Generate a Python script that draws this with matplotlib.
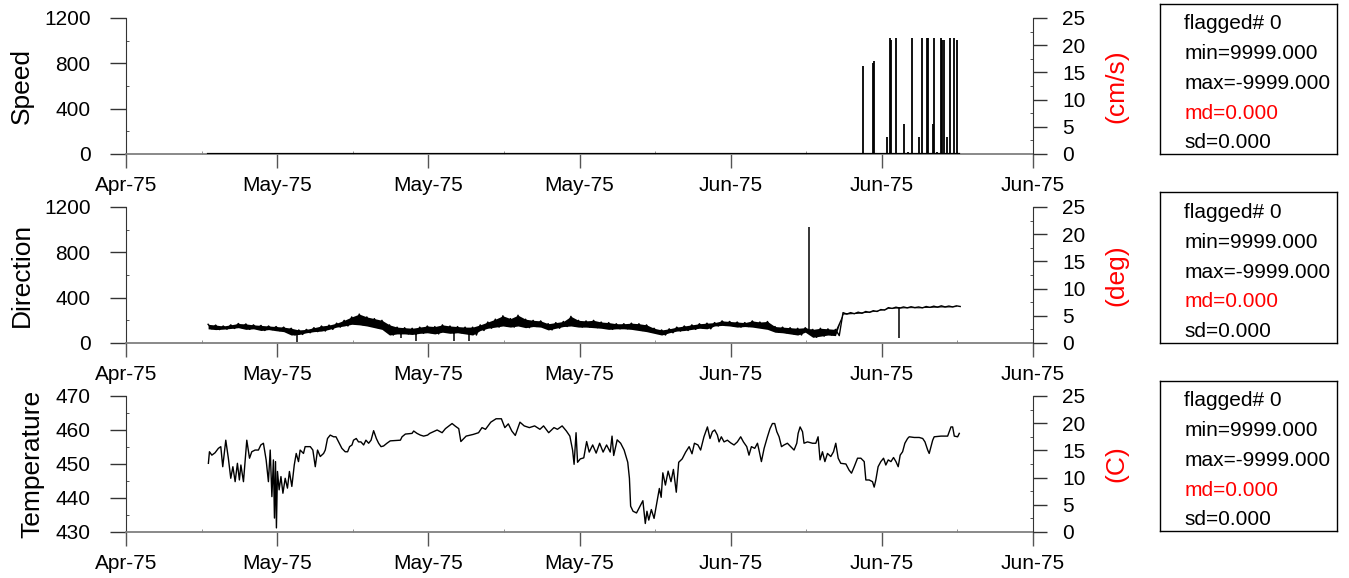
#! /usr/bin/env python3

import datetime
import numpy as np
import matplotlib
matplotlib.use('Agg')
import matplotlib.pyplot as plt
import matplotlib.dates as mdates
from matplotlib.ticker import FixedLocator, MultipleLocator

plt.rcParams['font.family'] = ['Liberation Sans', 'DejaVu Sans']

# time axis: days after 25 Apr 1975
t0 = datetime.datetime(1975, 4, 25)
tick_days = [0, 10, 20, 30, 40, 50, 60]
minor_days = [5, 15, 25, 35, 45, 55]

# speed: flat zero record with spikes
speed_base_days = [5.43, 55.12]
speed_base_vals = [0, 0]
speed_spike_days = [48.74, 49.38, 49.47, 50.35, 50.55, 50.61, 50.91, 51.44, 51.72,
                    51.97, 52.43, 52.63, 52.98, 53.07, 53.40, 53.44, 53.64, 53.91,
                    53.99, 54.11, 54.28, 54.48, 54.77, 54.97]
speed_spike_vals = [776, 805, 823, 150, 1021, 1010, 1021, 265, 20,
                    1021, 153, 1021, 1021, 1021, 265, 1021, 20, 1021,
                    1010, 1010, 153, 1021, 1021, 1010]

# direction: high / low of the noisy record in half-day bins
dir_start = 5.43
dir_step = 0.5
dir_high = [
    165, 158, 150, 160, 172, 168, 160, 155, 150, 145,
    140, 130, 115, 120, 135, 150, 158, 175, 200, 230,
    255, 230, 215, 200, 160, 140, 135, 130, 140, 150,
    145, 160, 150, 145, 140, 140, 160, 185, 210, 240,
    215, 245, 210, 200, 195, 170, 180, 190, 235, 200,
    195, 200, 185, 180, 170, 170, 175, 170, 160, 130,
    115, 125, 140, 150, 160, 170, 175, 180, 195, 190,
    185, 180, 195, 185, 190, 145, 140, 135, 130, 135,
    120, 130, 125, 120, 268, 268, 272, 278, 285, 295,
    312, 316, 318, 320, 318, 322, 325, 328, 326, 328,
]
dir_low = [
    125, 118, 122, 128, 135, 120, 125, 110, 118, 108,
    100, 70, 75, 90, 100, 105, 120, 140, 150, 165,
    160, 150, 135, 120, 70, 80, 80, 75, 85, 90,
    80, 95, 85, 90, 80, 70, 110, 130, 140, 150,
    140, 150, 135, 145, 140, 115, 130, 145, 150, 140,
    140, 135, 130, 120, 125, 125, 120, 110, 100, 85,
    70, 90, 105, 110, 120, 130, 125, 150, 155, 150,
    140, 145, 140, 130, 120, 95, 90, 80, 70, 95,
    50, 60, 70, 65, 255, 258, 262, 270, 278, 290,
    305, 308, 310, 312, 310, 314, 316, 318, 318, 322,
]
# single-sample excursions
dir_spike_days = [11.32, 18.18, 19.17, 21.68, 22.68, 45.17, 51.11]
dir_spike_from = [75, 80, 75, 85, 80, 120, 318]
dir_spike_to = [5, 40, 20, 15, 20, 1025, 44]

# temperature
temp_days = [
    5.45, 5.52, 5.68, 5.89, 6.11, 6.27, 6.40, 6.60, 6.77, 6.93,
    7.07, 7.22, 7.37, 7.50, 7.60, 7.77, 7.99, 8.17, 8.32, 8.54,
    8.76, 8.92, 9.09, 9.27, 9.42, 9.54, 9.65, 9.75, 9.82, 9.89,
    9.95, 10.02, 10.13, 10.25, 10.38, 10.53, 10.68, 10.81, 10.97, 11.13,
    11.26, 11.41, 11.52, 11.74, 11.85, 12.19, 12.36, 12.52, 12.67, 12.85,
    13.07, 13.18, 13.33, 13.51, 13.73, 13.89, 14.06, 14.28, 14.50, 14.66,
    14.79, 14.95, 15.05, 15.23, 15.38, 15.54, 15.72, 15.87, 16.05, 16.21,
    16.38, 16.56, 16.71, 16.87, 17.04, 17.26, 17.48, 18.15, 18.26, 18.48,
    18.92, 19.03, 19.25, 19.47, 19.69, 19.95, 20.09, 20.58, 20.91, 21.13,
    21.34, 21.57, 21.79, 22.01, 22.15, 22.50, 22.97, 23.32, 23.55, 23.78,
    24.13, 24.48, 24.83, 25.06, 25.29, 25.52, 25.75, 26.06, 26.34, 26.68,
    27.03, 27.38, 27.62, 27.96, 28.31, 28.54, 28.85, 29.13, 29.36, 29.54,
    29.64, 29.77, 29.87, 30.05, 30.28, 30.47, 30.64, 30.87, 31.10, 31.33,
    31.56, 31.79, 32.03, 32.15, 32.26, 32.49, 32.72, 32.95, 33.19, 33.30,
    33.38, 33.54, 33.77, 34.00, 34.19, 34.35, 34.46, 34.58, 34.75, 34.93,
    35.12, 35.28, 35.40, 35.51, 35.68, 35.86, 36.05, 36.21, 36.40, 36.56,
    36.79, 37.02, 37.25, 37.44, 37.60, 37.83, 38.01, 38.23, 38.46, 38.63,
    38.79, 38.94, 39.12, 39.23, 39.38, 39.56, 39.78, 40.00, 40.22, 40.44,
    40.66, 40.84, 41.06, 41.21, 41.37, 41.59, 41.77, 41.87, 42.03, 42.21,
    42.43, 42.60, 42.76, 42.91, 43.05, 43.20, 43.36, 43.53, 43.75, 43.97,
    44.19, 44.37, 44.46, 44.59, 44.75, 44.85, 45.08, 45.41, 45.63, 45.78,
    45.91, 46.07, 46.23, 46.40, 46.62, 46.80, 46.95, 47.11, 47.28, 47.62,
    47.83, 47.99, 48.17, 48.39, 48.61, 48.83, 48.94, 49.16, 49.38, 49.49,
    49.60, 49.75, 49.93, 50.11, 50.26, 50.42, 50.60, 50.77, 50.93, 51.08,
    51.21, 51.37, 51.52, 51.70, 51.81, 52.14, 52.47, 52.70, 52.85, 53.03,
    53.13, 53.25, 53.36, 53.46, 53.91, 54.35, 54.57, 54.68, 54.79, 55.01,
    55.12,
]
temp_vals = [
    450.2, 453.6, 452.6, 453.3, 454.6, 455.1, 449.2, 457.0, 451.7, 445.8,
    449.2, 444.8, 450.2, 445.3, 449.7, 444.8, 457.0, 451.7, 453.6, 454.1,
    454.1, 455.6, 456.1, 451.2, 444.8, 454.1, 440.4, 451.2, 434.1, 450.7,
    431.2, 447.8, 442.4, 446.3, 441.4, 445.8, 442.9, 447.8, 443.4, 449.7,
    453.1, 450.7, 454.1, 453.1, 455.1, 455.1, 454.1, 449.2, 454.1, 452.2,
    453.1, 454.1, 457.5, 458.5, 458.0, 458.0, 456.5, 454.6, 453.6, 453.6,
    455.1, 455.6, 457.0, 457.5, 456.5, 456.5, 455.6, 457.0, 456.1, 457.0,
    459.8, 457.5, 456.1, 455.1, 455.3, 456.1, 456.8, 457.0, 458.0, 458.8,
    459.0, 459.7, 459.0, 458.5, 458.2, 458.5, 459.0, 460.0, 459.2, 460.4,
    461.1, 461.9, 461.1, 460.4, 456.6, 458.2, 458.7, 459.2, 460.7, 460.2,
    462.3, 463.3, 463.3, 460.7, 461.8, 459.7, 458.4, 462.3, 461.2, 460.7,
    461.2, 460.2, 461.2, 459.2, 460.7, 460.2, 461.2, 459.7, 458.2, 454.1,
    449.9, 459.2, 450.5, 451.5, 451.8, 456.6, 453.5, 455.6, 453.2, 456.1,
    453.5, 455.6, 453.5, 458.2, 452.5, 457.1, 456.1, 454.1, 450.5, 445.8,
    437.6, 436.1, 435.6, 437.6, 439.2, 432.5, 436.1, 433.5, 436.6, 434.0,
    438.7, 442.8, 440.2, 447.4, 443.8, 447.9, 444.8, 448.4, 441.7, 450.5,
    451.5, 453.5, 455.1, 453.0, 456.1, 455.6, 454.1, 458.0, 460.9, 457.5,
    459.5, 460.0, 458.5, 456.5, 458.0, 456.5, 457.0, 456.2, 455.6, 456.5,
    458.0, 456.5, 455.1, 452.6, 455.1, 454.6, 456.1, 454.1, 450.7, 454.6,
    458.0, 460.4, 461.9, 461.9, 459.5, 458.0, 455.1, 455.6, 456.1, 455.1,
    454.1, 456.1, 459.0, 460.9, 459.5, 456.1, 456.5, 456.1, 456.1, 458.0,
    451.2, 453.6, 450.7, 453.1, 452.2, 453.6, 456.1, 451.7, 450.2, 450.0,
    448.2, 447.3, 449.2, 451.7, 451.7, 450.7, 445.3, 445.3, 444.8, 443.2,
    445.3, 449.2, 450.7, 451.7, 449.7, 451.2, 450.7, 451.9, 450.7, 449.2,
    452.6, 453.6, 456.1, 457.5, 458.0, 457.8, 457.8, 457.5, 456.5, 454.1,
    453.1, 455.1, 457.0, 458.0, 458.2, 458.2, 460.9, 460.9, 458.2, 458.0,
    459.0,
]

panel_names = ['Speed', 'Direction', 'Temperature']
unit_names = ['(cm/s)', '(deg)', '(C)']
left_limits = [(0, 1200), (0, 1200), (430, 470)]
left_major = [400, 400, 10]
left_minor = [200, 200, 5]
stats_lines = ['flagged# 0', 'min=9999.000', 'max=-9999.000', 'md=0.000', 'sd=0.000']
stats_colors = ['black', 'black', 'black', 'red', 'black']


def days_to_num(d):
    return mdates.date2num(t0) + np.asarray(d, dtype=float)


def style_panel(ax, k):
    ax.set_xlim(days_to_num(tick_days[0]), days_to_num(tick_days[-1]))
    ax.set_ylim(*left_limits[k])
    ax.xaxis.set_major_locator(FixedLocator(days_to_num(tick_days)))
    ax.xaxis.set_minor_locator(FixedLocator(days_to_num(minor_days)))
    ax.xaxis.set_major_formatter(mdates.DateFormatter('%b-%y'))
    ax.yaxis.set_major_locator(MultipleLocator(left_major[k]))
    ax.yaxis.set_minor_locator(MultipleLocator(left_minor[k]))
    ax.spines['top'].set_visible(False)
    ax.spines['right'].set_visible(False)
    ax.spines['left'].set_color('#333333')
    ax.spines['bottom'].set_color('#808080')
    ax.spines['bottom'].set_linewidth(1.3)
    ax.tick_params(axis='y', which='major', direction='out', length=11.5,
                   width=1, color='#333333', labelsize=15, pad=14)
    ax.tick_params(axis='y', which='minor', direction='in', length=2,
                   color='#333333')
    ax.tick_params(axis='x', which='major', direction='out', length=10,
                   width=1, color='#555555', labelsize=15, pad=6)
    ax.tick_params(axis='x', which='minor', direction='in', length=2,
                   color='#808080')
    ax.text(-0.115 if k < 2 else -0.103, 0.5, panel_names[k], rotation=90,
            ha='center', va='center', fontsize=19, transform=ax.transAxes)

    tw = ax.twinx()
    tw.set_ylim(0, 25)
    tw.yaxis.set_major_locator(MultipleLocator(5))
    tw.yaxis.set_minor_locator(MultipleLocator(2.5))
    for s in ['top', 'left', 'bottom']:
        tw.spines[s].set_visible(False)
    tw.spines['right'].set_color('#333333')
    tw.tick_params(axis='y', which='major', direction='out', length=10,
                   width=1, color='#333333', labelsize=15, pad=11)
    tw.tick_params(axis='y', which='minor', direction='in', length=2,
                   color='#333333')
    tw.text(1.0915, 0.5, unit_names[k], rotation=90, color='red',
            ha='center', va='center', fontsize=19, transform=tw.transAxes)
    return tw


def stats_box(fig, rect):
    bx = fig.add_axes(rect)
    bx.set_xticks([])
    bx.set_yticks([])
    for s in bx.spines.values():
        s.set_linewidth(1)
        s.set_color('black')
    ys = [0.867, 0.667, 0.47, 0.273, 0.075]
    for line, col, y in zip(stats_lines, stats_colors, ys):
        bx.text(0.136, y, line, color=col, fontsize=15, ha='left', va='center',
                transform=bx.transAxes)


def main():
    fig = plt.figure(figsize=(13.49, 5.78), dpi=100)
    fig.patch.set_facecolor('white')
    bottoms = [0.7336, 0.4066, 0.0796]
    axes = []
    for k, b in enumerate(bottoms):
        ax = fig.add_axes([0.0934, b, 0.6724, 0.2353])
        axes.append(ax)

    # speed
    ax = axes[0]
    ax.plot(days_to_num(speed_base_days), speed_base_vals, color='black', lw=1.6,
            zorder=3)
    ax.vlines(days_to_num(speed_spike_days), 0, speed_spike_vals, color='black',
              lw=1.3, zorder=3)
    style_panel(ax, 0)

    # direction: band between bin extremes, with the high/low zigzag on top
    ax = axes[1]
    td = dir_start + dir_step * np.arange(len(dir_high))
    ax.fill_between(days_to_num(td), dir_low, dir_high, color='black', lw=0,
                    zorder=3)
    zz_t = np.column_stack([td, td + dir_step / 2]).ravel()
    zz_v = np.column_stack([dir_high, dir_low]).ravel()
    ax.plot(days_to_num(zz_t), zz_v, color='black', lw=1.0, zorder=3)
    ax.vlines(days_to_num(dir_spike_days), dir_spike_from, dir_spike_to,
              color='black', lw=1.1, zorder=3)
    style_panel(ax, 1)

    # temperature
    ax = axes[2]
    ax.plot(days_to_num(temp_days), temp_vals, color='black', lw=1.0, zorder=3)
    style_panel(ax, 2)

    box_rects = [[0.8599, 0.7336, 0.1312, 0.2595],
                 [0.8599, 0.4066, 0.1312, 0.2612],
                 [0.8599, 0.0813, 0.1312, 0.2595]]
    for r in box_rects:
        stats_box(fig, r)

    fig.savefig('out.png', dpi=100, facecolor='white')
    plt.close()
    return None


if __name__ == '__main__':
    main()
